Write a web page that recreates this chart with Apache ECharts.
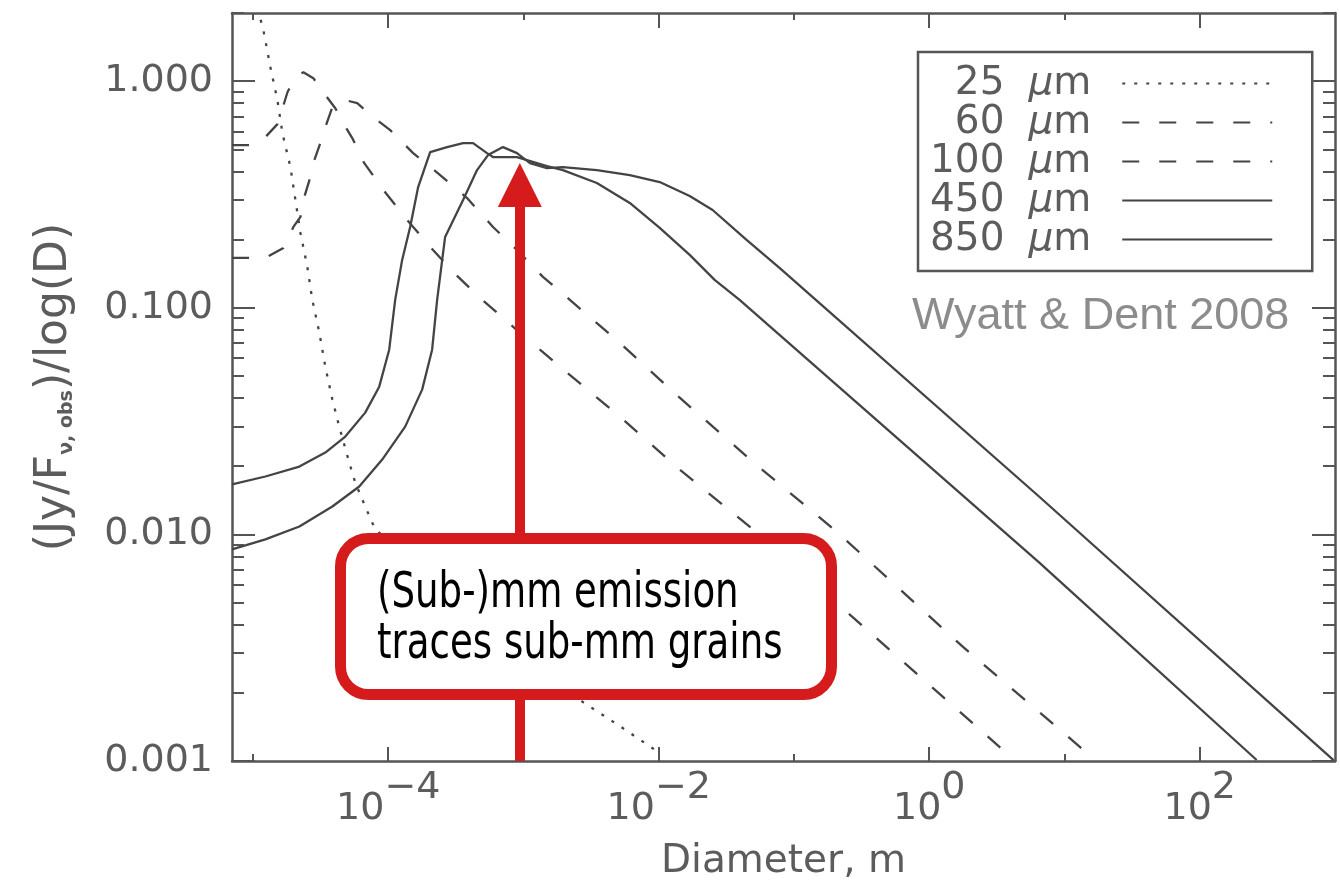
<!DOCTYPE html>
<html>
<head>
<meta charset="utf-8">
<script src="https://cdn.jsdelivr.net/npm/echarts@6/dist/echarts.min.js"></script>
<style>html,body{margin:0;padding:0;background:#fff}#c{width:1340px;height:880px}</style>
</head>
<body>
<div id="c"></div>
<script>
// ---------- data (Diameter in m, value in Jy/F_nu,obs per log D) ----------
const seriesNames = ['25 μm', '60 μm', '100 μm', '450 μm', '850 μm'];

const D25 = [1.08e-5, 1.195e-5, 1.346e-5, 1.517e-5, 1.652e-5, 1.892e-5, 2.061e-5, 2.244e-5, 2.523e-5, 2.748e-5, 3.097e-5, 3.428e-5, 3.864e-5, 4.345e-5, 5.152e-5, 5.708e-5, 6.761e-5, 8.017e-5, 4.775e-4, 2.748e-3, 5.152e-3, 9.66e-3];
const V25 = [2.10, 1.678, 1.153, 0.825, 0.590, 0.418, 0.299, 0.214, 0.1517, 0.1084, 0.0776, 0.0550, 0.0394, 0.0299, 0.02075, 0.01694, 0.01327, 0.01052, 0.00423, 0.00182, 0.001426, 0.001107];

const D60 = [7.0e-6, 9.91e-6, 1.236e-5, 1.517e-5, 1.622e-5, 1.799e-5, 2.061e-5, 2.36e-5, 2.796e-5, 3.311e-5, 4.064e-5, 4.656e-5, 5.424e-5, 6.653e-5, 9.343e-5, 1.381e-4, 2.076e-4, 3.069e-4, 4.775e-4, 9.42e-4, 1.859e-3, 5.152e-3, 1.429e-2, 5.287e-2, 2.26, 4.24];
const V60 = [0.522, 0.522, 0.567, 0.6465, 0.730, 0.894, 1.041, 1.096, 1.031, 0.894, 0.760, 0.653, 0.561, 0.435, 0.3277, 0.2442, 0.1838, 0.1426, 0.1107, 0.0776, 0.0550, 0.0331, 0.01933, 0.01021, 0.001413, 0.00101];

const D100 = [7.0e-6, 1.009e-5, 1.279e-5, 1.679e-5, 1.991e-5, 2.244e-5, 2.36e-5, 2.657e-5, 2.796e-5, 3.149e-5, 3.428e-5, 3.864e-5, 4.817e-5, 5.905e-5, 7.75e-5, 1.035e-4, 1.529e-4, 2.42e-4, 3.828e-4, 5.955e-4, 8.954e-4, 1.393e-3, 2.204e-3, 5.152e-3, 1.429e-2, 5.564e-2, 0.2059, 1.752, 14.41, 16.51];
const V100 = [0.1661, 0.1661, 0.1678, 0.1838, 0.2274, 0.2518, 0.299, 0.3777, 0.4353, 0.5332, 0.6271, 0.768, 0.825, 0.800, 0.694, 0.6083, 0.4817, 0.3854, 0.3052, 0.2274, 0.1801, 0.1370, 0.1084, 0.0701, 0.0401, 0.01973, 0.01031, 0.003211, 0.001095, 0.00101];

const D450 = [7.0e-6, 1.236e-5, 2.204e-5, 3.428e-5, 4.817e-5, 6.761e-5, 8.583e-5, 1.017e-4, 1.126e-4, 1.268e-4, 1.453e-4, 1.665e-4, 2.042e-4, 2.725e-4, 3.577e-4, 4.24e-4, 5.378e-4, 5.955e-4, 8.954e-4, 1.491e-3, 1.956e-3, 3.487e-3, 6.109e-3, 1.017e-2, 1.694e-2, 2.59e-2, 3.961e-2, 6.483, 263.5];
const V450 = [0.01661, 0.01801, 0.01993, 0.02297, 0.02702, 0.03447, 0.04487, 0.06531, 0.1084, 0.1627, 0.2274, 0.3412, 0.4867, 0.512, 0.5332, 0.5332, 0.4817, 0.4626, 0.4626, 0.4222, 0.4054, 0.3553, 0.2902, 0.2251, 0.1712, 0.1328, 0.1084, 0.007527, 0.00101];

const D850 = [7.0e-6, 1.236e-5, 2.204e-5, 3.864e-5, 6.109e-5, 9.031e-5, 1.335e-4, 1.782e-4, 2.112e-4, 2.30e-4, 2.635e-4, 3.577e-4, 4.537e-4, 5.47e-4, 7.058e-4, 8.954e-4, 1.117e-3, 1.491e-3, 1.956e-3, 3.487e-3, 6.109e-3, 1.017e-2, 1.694e-2, 2.503e-2, 4.461e-2, 7.816e-2, 0.1369, 6.483, 975];
const V850 = [0.008588, 0.009506, 0.01084, 0.01328, 0.01627, 0.0214, 0.0299, 0.04354, 0.06531, 0.1084, 0.2055, 0.299, 0.4054, 0.4721, 0.512, 0.4817, 0.4353, 0.4137, 0.418, 0.4054, 0.3854, 0.3589, 0.3114, 0.2702, 0.1994, 0.150, 0.1118, 0.0147, 0.00101];

// axis ranges and ticks
const xRange = [7e-6, 1000];
const yRange = [0.001, 2];
const xMajorTicks = [1e-4, 1e-2, 1, 100];
const xTickExps = ['−4', '−2', '0', '2'];
const xMinorTicks = [1e-5, 1e-3, 1e-1, 10];
const yMajorTicks = [0.001, 0.01, 0.1, 1];
const yTickLabels = ['0.001', '0.010', '0.100', '1.000'];
const yMinorTicks = [0.002, 0.003, 0.004, 0.005, 0.006, 0.007, 0.008, 0.009,
                     0.02, 0.03, 0.04, 0.05, 0.06, 0.07, 0.08, 0.09,
                     0.2, 0.3, 0.4, 0.5, 0.6, 0.7, 0.8, 0.9, 2];

// annotation arrow (diameter, from value, to value)
const arrowD = [9.4e-4];
const arrowFrom = [0.001];
const arrowTo = [0.348];
const noteLines = ['(Sub-)mm emission', 'traces sub-mm grains'];
const creditText = 'Wyatt & Dent 2008';

// ---------- chart ----------
const zip = (a, b) => a.map((v, i) => [v, b[i]]);
const INK = '#444';
const AX = '#555';
const LBL = '#5c5c5c';
const RED = '#d51b1b';
const FONT = "'DejaVu Sans', sans-serif";

const idxOf = (arr, v) => arr.findIndex(t => Math.abs(Math.log10(t) - Math.log10(v)) < 1e-6);

const frameLine = { show: true, onZero: false, lineStyle: { color: AX, width: 2.5 } };
const noLine = { show: false, onZero: false };
const tickStyle = { color: AX, width: 2 };

function xAx(pos, major, extra) {
  return Object.assign({
    type: 'log', logBase: 10, min: xRange[0], max: xRange[1], position: pos,
    splitLine: { show: false }, minorTick: { show: false }, minorSplitLine: { show: false },
    axisLine: major ? frameLine : noLine,
    axisTick: { show: true, inside: true, length: major ? (pos === 'top' ? 15 : 14) : 7,
                customValues: major ? xMajorTicks : xMinorTicks, lineStyle: tickStyle },
    axisLabel: { show: false }
  }, extra || {});
}
function yAx(pos, major, extra) {
  return Object.assign({
    type: 'log', logBase: 10, min: yRange[0], max: yRange[1], position: pos,
    splitLine: { show: false }, minorTick: { show: false }, minorSplitLine: { show: false },
    axisLine: major ? frameLine : noLine,
    axisTick: { show: true, inside: true, length: major ? 23 : 12,
                customValues: major ? yMajorTicks : yMinorTicks, lineStyle: tickStyle },
    axisLabel: { show: false }
  }, extra || {});
}

const lineSeries = (name, D, V, dash, width) => ({
  name, type: 'line', data: zip(D, V), xAxisIndex: 0, yAxisIndex: 0,
  symbol: 'none', showSymbol: false, smooth: false, clip: true, color: INK,
  lineStyle: { color: INK, width: width, type: dash, cap: 'butt' },
  emphasis: { disabled: true }
});

const chart = echarts.init(document.getElementById('c'), null, { renderer: 'canvas' });
const s850 = lineSeries(seriesNames[4], D850, V850, 'solid', 2.3);
s850.markLine = {
  silent: true, animation: false,
  symbol: ['none', 'triangle'], symbolSize: [44, 44],
  label: { show: false },
  lineStyle: { color: RED, width: 10, type: 'solid', opacity: 1 },
  itemStyle: { color: RED },
  emphasis: { disabled: true },
  data: [[{ coord: [arrowD[0], arrowFrom[0]] }, { coord: [arrowD[0], arrowTo[0]] }]]
};

const option = {
  animation: false,
  backgroundColor: '#fff',
  grid: { left: 232, right: 5, top: 13, bottom: 119, containLabel: false, outerBoundsMode: 'none' },
  title: [
    {
      text: creditText, left: 912, top: 294, padding: 0,
      textStyle: { fontFamily: "'Liberation Sans', Arial, sans-serif", fontSize: 45, lineHeight: 45,
                   fontWeight: 'normal', color: '#8c8c8c' }
    }
  ],
  graphic: [
    {
      type: 'rect', z: 20, silent: true,
      shape: { x: 340.5, y: 538.5, width: 491, height: 156, r: 28 },
      style: { fill: '#fff', stroke: RED, lineWidth: 11 }
    },
    {
      type: 'text', z: 21, silent: true, x: 377, y: 569, scaleX: 0.825,
      style: {
        text: noteLines.join('\n'), fill: '#000',
        font: "50px 'DejaVu Sans Condensed', 'DejaVu Sans', sans-serif",
        lineHeight: 51, verticalAlign: 'top', align: 'left'
      }
    }
  ],
  legend: {
    data: seriesNames, orient: 'vertical', left: 918, top: 52, align: 'right',
    itemWidth: 150, itemHeight: 2, itemGap: 0, padding: [12, 39, 12, 12],
    borderColor: AX, borderWidth: 2.5, selectedMode: false,
    itemStyle: { opacity: 0 },
    formatter: name => '{n|' + name.split(' ')[0] + '}{u|μ}{m|m}',
    textStyle: {
      color: LBL, fontFamily: FONT, fontSize: 39,
      rich: {
        n: { color: LBL, fontFamily: FONT, fontSize: 39, lineHeight: 39 },
        u: { color: LBL, fontFamily: FONT, fontSize: 39, lineHeight: 39, fontStyle: 'italic', padding: [0, 0, 0, 24] },
        m: { color: LBL, fontFamily: FONT, fontSize: 39, lineHeight: 39, padding: [0, 26, 0, 0] }
      }
    }
  },
  xAxis: [
    xAx('bottom', true, {
      axisLabel: {
        show: true, customValues: xMajorTicks, margin: 23,
        formatter: v => '{b|10}{s|' + xTickExps[idxOf(xMajorTicks, v)] + '}',
        rich: {
          b: { fontFamily: FONT, fontSize: 38, lineHeight: 44, color: LBL, verticalAlign: 'bottom' },
          s: { fontFamily: FONT, fontSize: 38, lineHeight: 44, color: LBL, verticalAlign: 'bottom', padding: [0, 0, 21, 0] }
        }
      },
      name: 'Diameter, m', nameLocation: 'middle', nameGap: 81,
      nameTextStyle: { fontFamily: FONT, fontSize: 39, lineHeight: 39, color: LBL }
    }),
    xAx('bottom', false),
    xAx('top', true),
    xAx('top', false)
  ],
  yAxis: [
    yAx('left', true, {
      axisLabel: {
        show: true, customValues: yMajorTicks, margin: 19,
        formatter: v => yTickLabels[idxOf(yMajorTicks, v)],
        fontFamily: FONT, fontSize: 38, color: LBL
      },
      name: '{a|(Jy/F}{s|ν, obs}{a|)/log(D)}', nameLocation: 'middle', nameRotate: 90, nameGap: 155,
      nameTextStyle: {
        rich: {
          a: { fontFamily: FONT, fontSize: 44, lineHeight: 50, color: LBL, verticalAlign: 'bottom' },
          s: { fontFamily: FONT, fontSize: 19, lineHeight: 19, color: LBL, fontWeight: 'bold', verticalAlign: 'bottom' }
        }
      }
    }),
    yAx('left', false),
    yAx('right', true),
    yAx('right', false)
  ],
  series: [
    lineSeries(seriesNames[0], D25, V25, [3, 9], 2.3),
    lineSeries(seriesNames[1], D60, V60, [17, 20], 2.3),
    lineSeries(seriesNames[2], D100, V100, [17, 20], 2.3),
    lineSeries(seriesNames[3], D450, V450, 'solid', 2.3),
    s850
  ]
};
chart.setOption(option);
</script>
</body>
</html>
